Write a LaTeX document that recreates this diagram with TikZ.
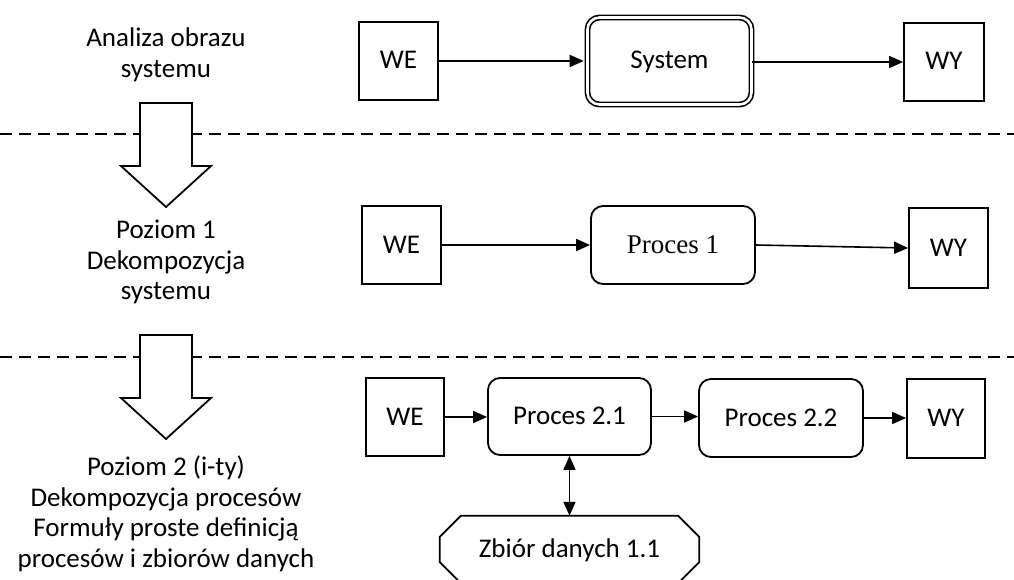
\documentclass[tikz,border=0pt]{standalone}
\usepackage{fontspec}
\setmainfont{Carlito}
\newfontfamily\timesfont{Liberation Serif}
\usetikzlibrary{arrows.meta,positioning}

\begin{document}
\begin{tikzpicture}[
  x=1pt, y=-1pt,
  txt/.style={font=\fontsize{27pt}{30.5pt}\selectfont},
  boxtxt/.style={txt, text height=19pt, text depth=3pt},
  iobox/.style={rectangle, draw, line width=1.8pt, inner sep=0pt,
                minimum width=79pt, minimum height=78pt, boxtxt},
  procbox/.style={rectangle, rounded corners=12pt, draw, line width=1.8pt,
                  inner sep=0pt, minimum width=164pt, minimum height=78pt, boxtxt},
  sysbox/.style={procbox, draw, double, double distance=2.6pt, line width=1.6pt,
                 minimum width=164pt, minimum height=87pt},
  databox/.style={rectangle, inner sep=0pt, minimum width=259pt,
                  minimum height=67pt, boxtxt},
  side/.style={align=center, txt},
  arrow/.style={-{Triangle[length=14pt,width=12pt]}, line width=1.6pt},
  biarrow/.style={{Triangle[length=14pt,width=12pt]}-{Triangle[length=14pt,width=12pt]},
                  line width=1.6pt},
  level/.style={dashed, dash pattern=on 12pt off 7pt, line width=1.8pt},
  bigarrow/.style={draw, fill=white, line width=1.8pt, line join=miter}
]
\useasboundingbox (0,0) rectangle (1014,580);

% Level separators
\draw[level] (0,134) -- (1014,134);
\draw[level] (0,357) -- (1014,357);

% Big down arrows
\foreach \t in {103,335}
  \draw[bigarrow] (140,\t) -- (192,\t) -- (192,\t+63) -- (211,\t+63)
    -- (166,\t+104) -- (121,\t+63) -- (140,\t+63) -- cycle;

% Side texts
\node[side] (lev0) at (166,55) {Analiza obrazu\\systemu};
\node[side] (lev1) at (166,262) {Poziom 1\\Dekompozycja\\systemu};
\node[side] (lev2) at (166,514) {Poziom 2 (i-ty)\\Dekompozycja procesów\\
  Formuły proste definicją\\procesów i zbiorów danych};

% Context level
\node[iobox] (we1) at (398.5,61) {WE};
\node[sysbox] (sys) at (669.5,61) {System};
\node[iobox, minimum width=80pt] (wy1) at (944,62) {WY};
\draw[arrow, shorten >=3pt] (we1.east) -- (sys.west);
\draw[arrow] (sys.east |- wy1.west) -- (wy1.west);

% Level 1
\node[iobox] (we2) at (401.5,245) {WE};
\node[procbox, font=\timesfont\fontsize{27pt}{30pt}\selectfont] (p1) at (673,245) {Proces 1};
\node[iobox, minimum height=80pt] (wy2) at (948.5,248) {WY};
\draw[arrow] (we2.east) -- (p1.west);
\draw[arrow] (p1.east) -- (wy2.west);

% Level 2
\node[iobox, minimum width=78pt] (we3) at (405,417) {WE};
\node[procbox, minimum width=163pt, minimum height=77pt] (p21) at (569.5,416.5) {Proces 2.1};
\node[procbox] (p22) at (781,418) {Proces 2.2};
\node[iobox, minimum width=78pt, minimum height=79pt] (wy3) at (946,418.5) {WY};
\draw[arrow] (we3.east) -- (we3.east -| p21.west);
\draw[arrow] (p21.east) -- (p21.east -| p22.west);
\draw[arrow] (p22.east) -- (p22.east -| wy3.west);

% Data store (chamfered corners)
\node[databox] (zb) at (569.5,549.5) {Zbiór danych 1.1};
\draw[line width=1.8pt] ([xshift=21pt]zb.north west) -- ([xshift=-21pt]zb.north east)
  -- ([yshift=-21pt]zb.north east) -- ([yshift=21pt]zb.south east)
  -- ([xshift=-21pt]zb.south east) -- ([xshift=21pt]zb.south west)
  -- ([yshift=21pt]zb.south west) -- ([yshift=-21pt]zb.north west) -- cycle;
\draw[biarrow] (p21.south) -- (zb.north);

\end{tikzpicture}
\end{document}
